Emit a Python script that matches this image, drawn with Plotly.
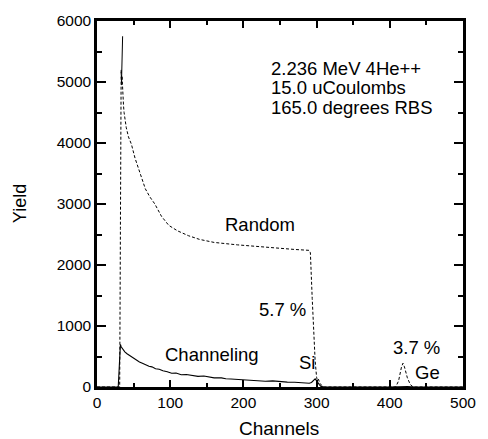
import plotly.graph_objects as go

# Random spectrum (dashed)
random_ch = [0, 31, 32, 33, 33.6, 34.2, 35, 35.6, 36.3, 37, 38, 40, 43, 47, 52, 56, 60, 66, 72, 79, 88, 98,
             110, 125, 140, 160, 192, 220, 250, 270, 290, 291.5, 294, 296, 298, 300, 301, 302.5, 304, 307, 310,
             408, 412, 416, 418, 420, 424, 428, 432, 500]
random_y = [0, 0, 2600, 5200, 4950, 5100, 4800, 4900, 4600, 4500, 4400, 4250, 4100, 3980, 3750, 3600, 3480, 3250,
            3120, 3000, 2800, 2650, 2560, 2480, 2420, 2370, 2330, 2300, 2270, 2255, 2240, 2200, 1450, 900, 430,
            160, 110, 130, 70, 25, 0,
            0, 100, 330, 390, 330, 150, 40, 0, 0]

# Surface spike (solid, thin)
spike_ch = [33.5, 35]
spike_y = [5000, 5750]

# Channeling spectrum (solid)
chan_ch = [0, 29, 30.5, 32, 33, 34, 36, 38, 41, 44, 47, 49, 52, 55, 58, 62, 66, 71, 75, 80, 85, 90, 96, 102,
           108, 115, 122, 130, 138, 146, 153, 160, 170, 176, 183, 190, 200, 210, 220, 230, 240, 250, 260, 270,
           280, 285, 290, 293, 296, 298, 300, 302, 304, 306, 310, 400, 412, 418, 424, 435, 500]
chan_y = [0, 0, 350, 700, 660, 640, 600, 575, 545, 520, 495, 480, 455, 430, 410, 390, 365, 340, 330, 300, 290,
          265, 250, 225, 230, 200, 205, 185, 175, 180, 160, 150, 150, 135, 130, 125, 115, 118, 105, 95, 100, 85,
          80, 78, 70, 65, 62, 75, 115, 135, 100, 60, 35, 10, 0, 0, 8, 15, 8, 0, 0]

info_lines = ["2.236 MeV 4He++", "15.0 uCoulombs", "165.0 degrees RBS"]
info_x = 235
info_y = [5226, 4903, 4590]

labels = ["Random", "5.7 %", "Channeling", "Si", "3.7 %", "Ge"]
label_x = [222, 253, 157, 287, 436, 452]
label_y = [2660, 1274, 532, 403, 645, 242]

x_ticks = [0, 100, 200, 300, 400, 500]
y_ticks = [0, 1000, 2000, 3000, 4000, 5000, 6000]

FONT = "Liberation Sans, Arial, Helvetica, sans-serif"
ANN = 18.5

fig = go.Figure()
fig.add_trace(go.Scatter(x=random_ch, y=random_y, mode="lines",
                         line=dict(color="black", width=1, dash="3px,2px"), showlegend=False))
fig.add_trace(go.Scatter(x=spike_ch, y=spike_y, mode="lines",
                         line=dict(color="black", width=1), showlegend=False))
fig.add_trace(go.Scatter(x=chan_ch, y=chan_y, mode="lines",
                         line=dict(color="black", width=1.1), showlegend=False))

for t, yy in zip(info_lines, info_y):
    fig.add_annotation(x=info_x, y=yy, text=t, showarrow=False, xanchor="left", yanchor="middle",
                       font=dict(family=FONT, size=ANN, color="black"))
for t, xx, yy in zip(labels, label_x, label_y):
    fig.add_annotation(x=xx, y=yy, text=t, showarrow=False, xanchor="center", yanchor="middle",
                       font=dict(family=FONT, size=ANN, color="black"))

fig.add_annotation(x=0.497, y=-0.113, xref="paper", yref="paper", text="Channels", showarrow=False,
                   xanchor="center", yanchor="middle", font=dict(family=FONT, size=19, color="black"))
fig.add_annotation(x=-0.21, y=0.5, xref="paper", yref="paper", text="Yield", showarrow=False, textangle=-90,
                   xanchor="center", yanchor="middle", font=dict(family=FONT, size=18, color="black"))

axis_common = dict(showgrid=False, zeroline=False, showline=True, linecolor="black", linewidth=2.5,
                   mirror="ticks", ticks="inside", tickcolor="black", tickwidth=2,
                   tickfont=dict(family=FONT, size=15.5, color="black"))

fig.update_xaxes(range=[0, 500], tickvals=x_ticks, ticklen=7,
                 minor=dict(dtick=50, ticklen=4, tickwidth=2, tickcolor="black", ticks="inside"),
                 **axis_common)
fig.update_yaxes(range=[0, 6000], tickvals=y_ticks, ticklen=9,
                 minor=dict(dtick=500, ticklen=5, tickwidth=2, tickcolor="black", ticks="inside"),
                 **axis_common)

fig.update_layout(width=488, height=439, margin=dict(l=97, r=19, t=15, b=52),
                  paper_bgcolor="white", plot_bgcolor="white",
                  font=dict(family=FONT, color="black"))

fig.write_html("out.html")
